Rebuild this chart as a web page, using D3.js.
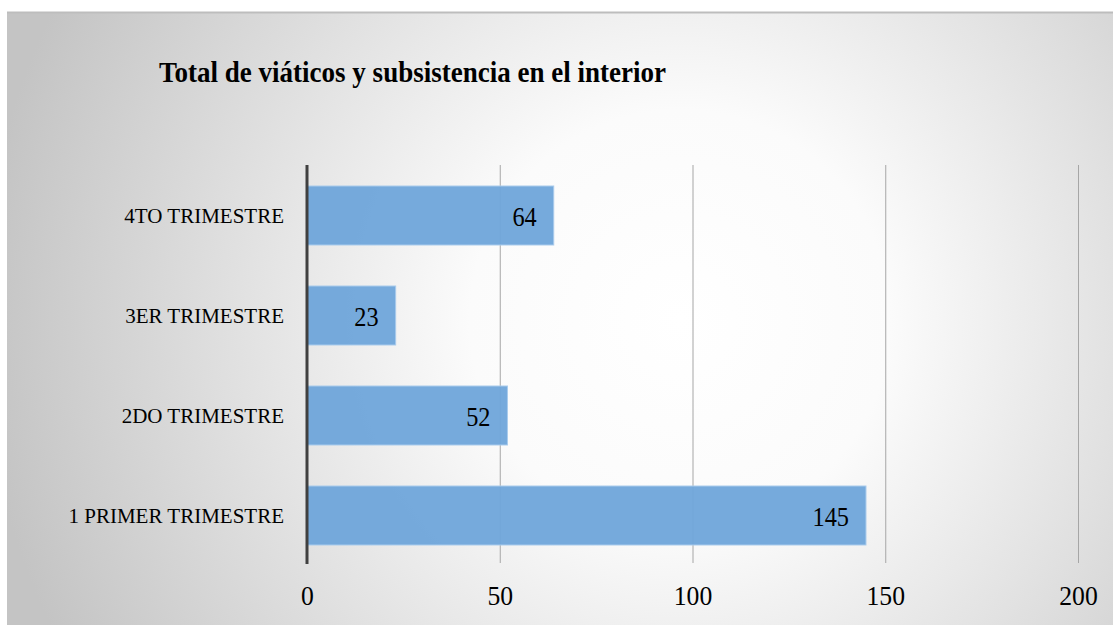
<!DOCTYPE html>
<html>
<head>
<meta charset="utf-8">
<script src="https://cdn.jsdelivr.net/npm/d3@7"></script>
<style>
  html, body { margin: 0; padding: 0; background: #ffffff; }
  svg { display: block; }
</style>
</head>
<body>
<svg id="chart" width="1113" height="625"></svg>
<script>
// Quarterly totals for travel and subsistence allowances
const categories = ["1 PRIMER TRIMESTRE", "2DO TRIMESTRE", "3ER TRIMESTRE", "4TO TRIMESTRE"];
const values = [145, 52, 23, 64];
const tickValues = [0, 50, 100, 150, 200];
const title = "Total de viáticos y subsistencia en el interior";

const SERIF = '"Liberation Serif", "Times New Roman", serif';
const svg = d3.select("#chart");
const W = 1113, H = 625;

// Narrow the glyphs horizontally (condensed serif look)
function squeeze(sel, factor) {
  sel.each(function () {
    const len = this.getComputedTextLength();
    d3.select(this).attr("textLength", len * factor).attr("lengthAdjust", "spacingAndGlyphs");
  });
}

// Background panel with radial shading
const defs = svg.append("defs");
const grad = defs.append("radialGradient")
  .attr("id", "bg").attr("gradientUnits", "userSpaceOnUse")
  .attr("cx", 680).attr("cy", 320).attr("r", 700);
grad.append("stop").attr("offset", "0%").attr("stop-color", "#ffffff");
grad.append("stop").attr("offset", "30%").attr("stop-color", "#fbfbfb");
grad.append("stop").attr("offset", "100%").attr("stop-color", "#c4c4c4");

svg.append("rect").attr("x", 7).attr("y", 12).attr("width", W - 7).attr("height", H - 12)
  .attr("fill", "url(#bg)");
svg.append("line").attr("x1", 7).attr("x2", W).attr("y1", 12.5).attr("y2", 12.5)
  .attr("stroke", "#bdbdbd").attr("stroke-width", 2);

const titleText = svg.append("text").attr("x", 159).attr("y", 82)
  .style("font-family", SERIF).attr("font-size", 29).attr("font-weight", "bold")
  .attr("fill", "#000").text(title);
titleText.attr("textLength", 507).attr("lengthAdjust", "spacingAndGlyphs");

const x = d3.scaleLinear().domain([0, 200]).range([307, 1078]);
const y = d3.scaleBand().domain(categories.slice().reverse())
  .range([166, 565]).paddingInner(0.41).paddingOuter(0.2);

// Vertical gridlines
svg.append("g").selectAll("line").data(tickValues.filter(d => d > 0)).join("line")
  .attr("x1", d => x(d) + 0.5).attr("x2", d => x(d) + 0.5)
  .attr("y1", 165).attr("y2", 563)
  .attr("stroke", "#a6a6a6").attr("stroke-width", 1);

// Bars
svg.append("g").selectAll("rect").data(categories).join("rect")
  .attr("x", x(0)).attr("y", (d) => y(d))
  .attr("width", (d, i) => x(values[i]) - x(0))
  .attr("height", y.bandwidth())
  .attr("fill", "#6fa5da").attr("fill-opacity", 0.95)
  .attr("stroke", "#a9cbec").attr("stroke-width", 1);

// Value labels
const vl = svg.append("g").selectAll("text").data(categories).join("text")
  .attr("x", (d, i) => x(values[i]) - 17)
  .attr("y", d => y(d) + y.bandwidth() / 2 + 10.5)
  .attr("text-anchor", "end").attr("font-size", 27)
  .style("font-family", SERIF).attr("fill", "#000")
  .text((d, i) => values[i]);
squeeze(vl, 0.9);

// Zero axis line
svg.append("line").attr("x1", x(0)).attr("x2", x(0))
  .attr("y1", 165).attr("y2", 564)
  .attr("stroke", "#404040").attr("stroke-width", 3);

// Category axis labels
const yAxis = d3.axisLeft(y).tickSize(0).tickPadding(23);
const gy = svg.append("g").attr("transform", `translate(${x(0)},0)`).call(yAxis);
gy.select(".domain").remove();
gy.selectAll("text").attr("font-size", 21).attr("dy", "0.36em")
  .style("font-family", SERIF).attr("fill", "#000");

// Value axis tick labels
const xAxis = d3.axisBottom(x).tickValues(tickValues).tickSize(0).tickPadding(0);
const gx = svg.append("g").attr("transform", "translate(0,605)").call(xAxis);
gx.select(".domain").remove();
gx.selectAll("text").attr("font-size", 27).attr("dy", "0")
  .style("font-family", SERIF).attr("fill", "#000");
squeeze(gx.selectAll("text"), 0.95);
</script>
</body>
</html>
